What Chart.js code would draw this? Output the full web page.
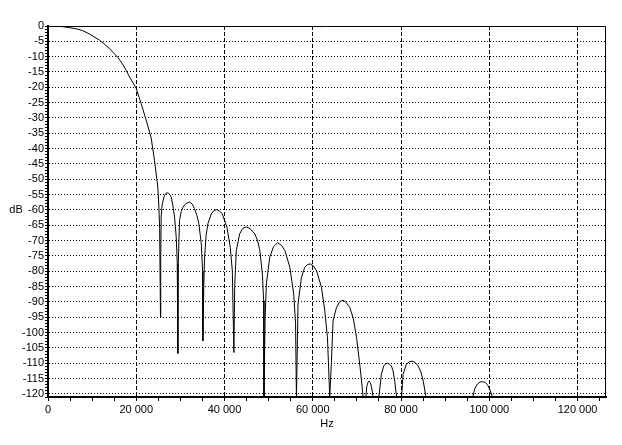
<!DOCTYPE html>
<html>
<head>
<meta charset="utf-8">
<script src="https://cdn.jsdelivr.net/npm/chart.js@4"></script>
<style>
  html, body { margin: 0; padding: 0; background: #fff; }
  canvas { display: block; }
</style>
</head>
<body>
<canvas id="respChart" width="622" height="445"></canvas>
<script>
// ---------------- data ----------------
const freqHz = [
  // main lobe
  0, 3310, 4840, 6360, 7850, 9380, 11650, 12780, 13900, 15800, 16800, 17700, 18460, 19980, 21110, 22250, 23380, 24130, 24650, 24880, 25100, 25300, 25490,
  // side lobes
  25550, 25650, 25900, 26390, 26800, 27150, 27500, 27920, 28300, 28680, 29060, 29290, 29420,
  29500, 29805, 30200, 30560, 31300, 32080, 32700, 33210, 33750, 34190, 34740, 35030, 35090,
  35300, 35480, 35850, 36230, 37000, 37600, 38200, 38850, 39500, 40540, 41310, 41770, 42130,
  42300, 42680, 43430, 44100, 44900, 45800, 46870, 47500, 48010, 48580, 48870, 48940,
  49200, 49490, 50250, 51100, 52050, 52900, 53670, 54810, 55680, 56100, 56300,
  56660, 57430, 58180, 58800, 59430, 60100, 60840, 61970, 62720, 63330, 63850,
  64240, 64600, 65380, 66100, 66870, 67600, 68400, 69200, 69920, 70820, 71420,
  72030, 72250, 72550, 72780, 73050, 73350, 73690,
  74980, 75550, 76070, 76500, 76950, 77400, 77820, 78200, 78570, 79000,
  80130, 80470, 81220, 81900, 82540, 83200, 83900, 84500, 85030, 85650,
  96250, 96700, 97300, 97900, 98430, 99000, 99600, 100200, 100700
];
const levelDb = [
  0, -0.2, -0.55, -0.9, -1.5, -2.6, -4.6, -5.9, -7.3, -10.2, -12.2, -14.4, -16.6, -20.3, -25.3, -30.7, -36.5, -43.8, -49.8, -52.5, -58, -66, -95.1,
  -75, -62, -58, -55.3, -54.5, -54.4, -54.8, -55.8, -58.5, -62.4, -68.9, -77.5, -106.8,
  -78.7, -63.4, -60.5, -59.1, -57.9, -57.4, -58.1, -59.6, -61.8, -64.5, -71.1, -79.8, -102.7,
  -85, -75.4, -68, -64.5, -61.3, -60.2, -59.9, -60.3, -61.3, -65.6, -72.2, -79.8, -106.5,
  -85, -73.2, -67.8, -66.1, -65.5, -66.1, -67.8, -70, -73.2, -80.9, -89.6, -121,
  -95, -84.1, -75.4, -72, -70.7, -71.5, -73.2, -78.7, -87.4, -97, -121,
  -90.7, -82, -78.7, -77.8, -77.6, -78.2, -79.8, -85.2, -92.9, -101.6, -121,
  -109.2, -96.1, -91.8, -89.9, -89.4, -90.2, -91.8, -95.5, -101.6, -112.5, -121,
  -121, -117.5, -116.1, -115.8, -116.3, -118, -121,
  -121, -113.6, -110.9, -110.2, -110, -110.3, -110.9, -112.5, -115.8, -121,
  -121, -113.6, -110.3, -109.5, -109.3, -109.7, -110.9, -112.8, -115.8, -121,
  -121, -118.3, -116.8, -116.1, -116, -116.2, -117, -118.8, -121
];

const xTickValues = [0, 20000, 40000, 60000, 80000, 100000, 120000];
const xTickLabels = ['0', '20 000', '40 000', '60 000', '80 000', '100 000', '120 000'];
const xMinorStep = 5000;
const yMinorStep = 1;
const yLabelStep = 5;
const xMax = 126450;
const yMin = -121;
const yMax = 0;

const points = freqHz.map((f, i) => ({ x: f, y: levelDb[i] }));

// frame on top/right and the horizontal "dB" label
const framePlugin = {
  id: 'frame',
  afterDraw(chart) {
    const { ctx, chartArea } = chart;
    ctx.save();
    ctx.strokeStyle = '#000';
    ctx.lineWidth = 1;
    ctx.beginPath();
    ctx.moveTo(chartArea.left, chartArea.top + 0.5);
    ctx.lineTo(chartArea.right - 0.5, chartArea.top + 0.5);
    ctx.lineTo(chartArea.right - 0.5, chartArea.bottom);
    ctx.stroke();
    ctx.fillStyle = '#000';
    ctx.font = '11px "Liberation Sans", Arial, sans-serif';
    ctx.textAlign = 'center';
    ctx.textBaseline = 'middle';
    ctx.fillText('dB', 16, 210);
    ctx.restore();
  }
};

const ctx = document.getElementById('respChart').getContext('2d');
new Chart(ctx, {
  type: 'line',
  data: {
    datasets: [{
      data: points,
      borderColor: '#000',
      borderWidth: 1,
      pointRadius: 0,
      tension: 0,
      fill: false
    }]
  },
  options: {
    responsive: false,
    animation: false,
    layout: { padding: { top: 26, right: 16, left: 0, bottom: 0 } },
    plugins: {
      legend: { display: false },
      tooltip: { enabled: false }
    },
    font: { family: '"Liberation Sans", Arial, sans-serif', size: 11 },
    scales: {
      x: {
        type: 'linear',
        min: 0,
        max: xMax,
        afterFit: (s) => { s.height = 48; },
        afterBuildTicks: (s) => {
          const t = [];
          for (let v = 0; v <= xMax; v += xMinorStep) t.push({ value: v });
          s.ticks = t;
        },
        border: { color: '#000', width: 2, dash: [4, 2] },
        grid: {
          color: (c) => (c.tick && xTickValues.includes(c.tick.value) && c.tick.value > 0 ? '#000' : 'rgba(0,0,0,0)'),
          tickColor: '#000',
          tickLength: 4,
          lineWidth: 1
        },
        ticks: {
          autoSkip: false,
          maxRotation: 0,
          padding: 2,
          color: '#000',
          font: { size: 11 },
          callback: (v) => {
            const i = xTickValues.indexOf(v);
            return i >= 0 ? xTickLabels[i] : '';
          }
        },
        title: {
          display: true,
          text: 'Hz',
          color: '#000',
          font: { size: 11 },
          padding: { top: 0, bottom: 14 }
        }
      },
      y: {
        min: yMin,
        max: yMax,
        afterFit: (s) => { s.width = 48; },
        afterBuildTicks: (s) => {
          const t = [];
          for (let v = yMin; v <= yMax; v += yMinorStep) t.push({ value: v });
          s.ticks = t;
        },
        border: { color: '#000', width: 2, dash: [1, 2] },
        grid: {
          color: (c) => (c.tick && c.tick.value % yLabelStep === 0 && c.tick.value > yMin ? '#000' : 'rgba(0,0,0,0)'),
          tickColor: '#000',
          tickLength: 3,
          lineWidth: 1
        },
        ticks: {
          autoSkip: false,
          padding: 1,
          color: '#000',
          font: { size: 11 },
          callback: (v) => (v % yLabelStep === 0 ? String(v) : '')
        }
      }
    }
  },
  plugins: [framePlugin]
});
</script>
</body>
</html>
